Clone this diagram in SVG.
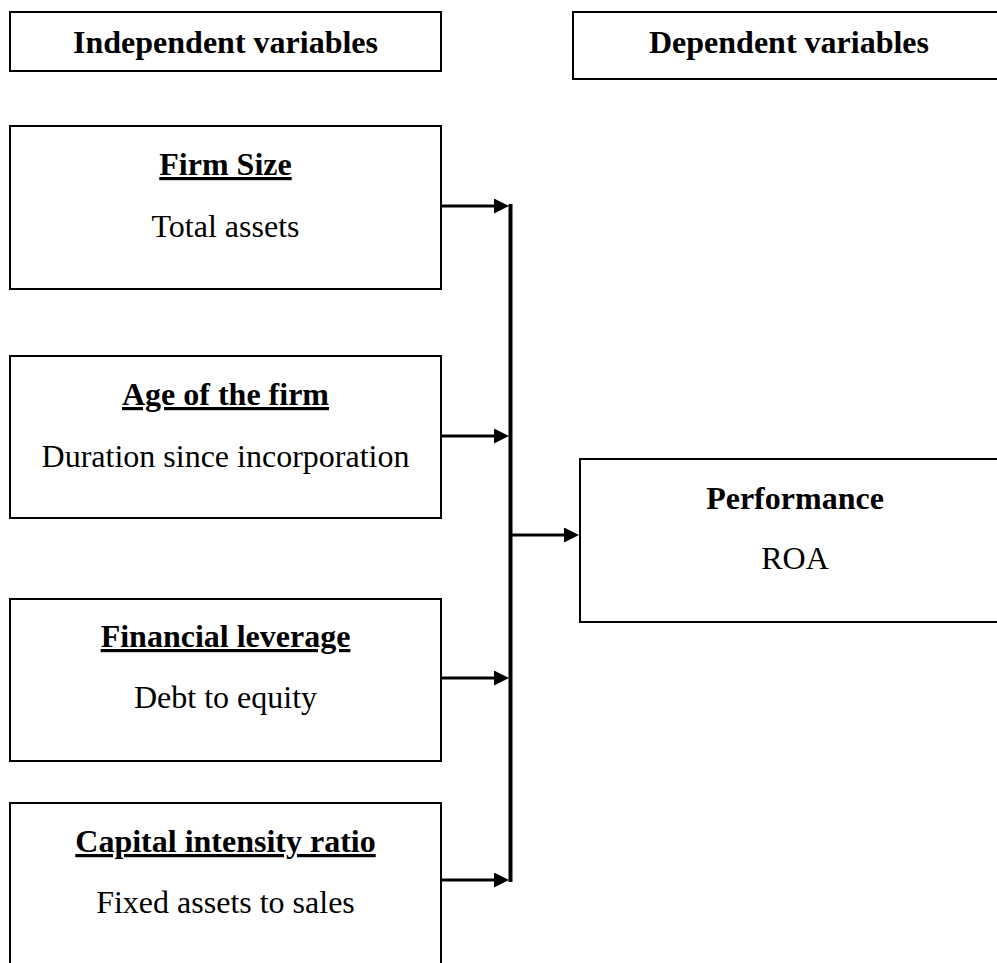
<svg xmlns="http://www.w3.org/2000/svg" width="997" height="963" viewBox="0 0 997 963">
<defs>
<style>
.box{fill:#fff;stroke:#000;stroke-width:2}
.t{font-family:"Liberation Serif","Times New Roman",serif;font-size:32px;fill:#000;text-anchor:middle}
.b{font-weight:bold}
.u{font-weight:bold;text-decoration:underline}
.arr{stroke:#000;stroke-width:3;fill:none}
.bus{stroke:#000;stroke-width:4;fill:none}
</style>
<marker id="ah" markerUnits="userSpaceOnUse" markerWidth="15" markerHeight="15" refX="5" refY="7.5" orient="auto">
<path d="M0,0 L15,7.5 L0,15 z" fill="#000"/>
</marker>
</defs>
<rect width="997" height="963" fill="#fff"/>
<g id="hdr-independent">
<rect class="box" x="10" y="12" width="431" height="59"/>
<text class="t b" x="225.5" y="53">Independent variables</text>
</g>
<g id="hdr-dependent">
<rect class="box" x="573" y="12" width="440" height="67"/>
<text class="t b" x="789" y="53">Dependent variables</text>
</g>
<g id="firm-size">
<rect class="box" x="10" y="126" width="431" height="163"/>
<text class="t u" x="225.5" y="175">Firm Size</text>
<text class="t" x="225.5" y="237">Total assets</text>
</g>
<g id="age">
<rect class="box" x="10" y="356" width="431" height="162"/>
<text class="t u" x="225.5" y="405">Age of the firm</text>
<text class="t" x="225.5" y="467">Duration since incorporation</text>
</g>
<g id="leverage">
<rect class="box" x="10" y="599" width="431" height="162"/>
<text class="t u" x="225.5" y="647">Financial leverage</text>
<text class="t" x="225.5" y="708">Debt to equity</text>
</g>
<g id="capital">
<rect class="box" x="10" y="803" width="431" height="170"/>
<text class="t u" x="225.5" y="852">Capital intensity ratio</text>
<text class="t" x="225.5" y="913">Fixed assets to sales</text>
</g>
<g id="performance">
<rect class="box" x="580" y="459" width="430" height="163"/>
<text class="t b" x="795" y="509">Performance</text>
<text class="t" x="795" y="569">ROA</text>
</g>
<g id="connectors">
<line class="bus" x1="510.5" y1="204" x2="510.5" y2="882"/>
<line class="arr" x1="442" y1="206" x2="499" y2="206" marker-end="url(#ah)"/>
<line class="arr" x1="442" y1="436" x2="499" y2="436" marker-end="url(#ah)"/>
<line class="arr" x1="442" y1="678" x2="499" y2="678" marker-end="url(#ah)"/>
<line class="arr" x1="442" y1="880" x2="499" y2="880" marker-end="url(#ah)"/>
<line class="arr" x1="512" y1="535" x2="569" y2="535" marker-end="url(#ah)"/>
</g>
</svg>
